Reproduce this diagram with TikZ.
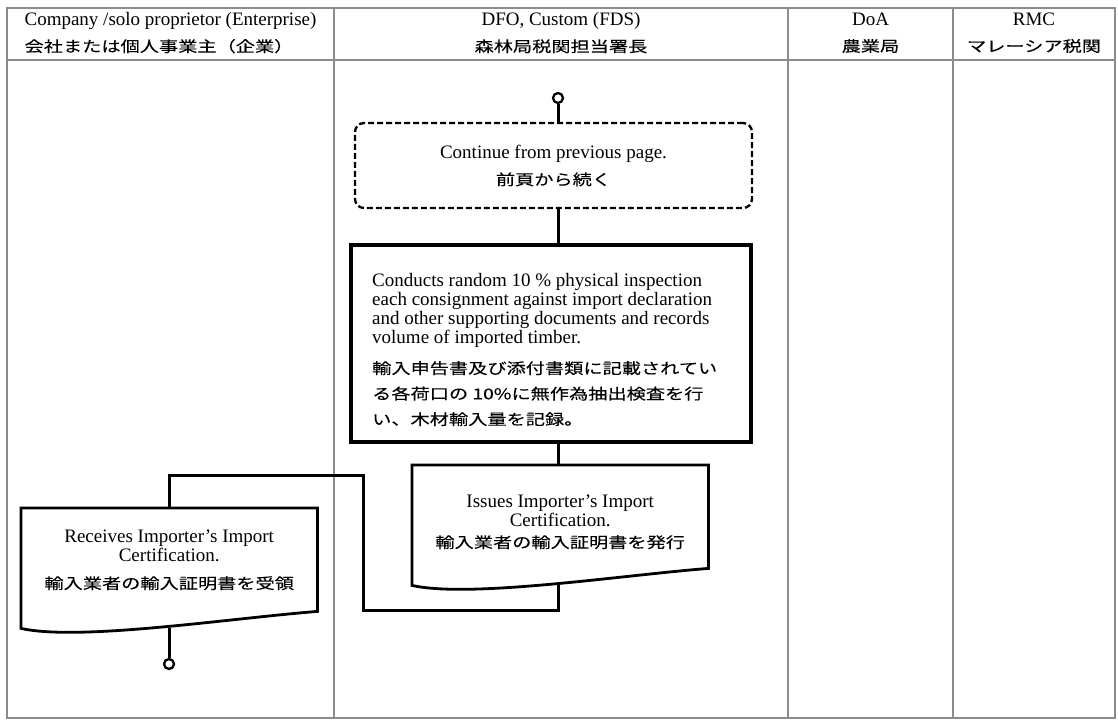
\documentclass[tikz,border=0pt]{standalone}
\usepackage{fontspec}
\setmainfont{Liberation Serif}
\newfontfamily\jpfam[FakeStretch=1.28,FakeBold=0.15]{Noto Sans CJK JP}
\usetikzlibrary{calc}
\newcommand\enfont{\fontsize{19}{19}\selectfont}
\newcommand\jpt[1]{{\jpfam\fontsize{15}{26}\selectfont #1}}
\begin{document}
\begin{tikzpicture}[x=1pt,y=-1pt,
  lane/.style={draw=black!45, line width=1.3pt},
  conn/.style={line width=3pt},
  docline/.style={line width=2.8pt, line join=miter},
  circ/.style={circle, draw, line width=2.3pt, minimum size=10pt, inner sep=0pt, fill=white},
  contbox/.style={draw, dash pattern=on 6pt off 3pt, line width=2.3pt, rounded corners=9pt,
     minimum width=397pt, minimum height=85pt, align=center, inner sep=0pt, font=\enfont},
  inspbox/.style={draw, line width=3.5pt, minimum width=400pt, minimum height=197pt, inner sep=0pt},
  docframe/.style={minimum width=296pt, minimum height=120pt, inner sep=0pt, anchor=north west},
  txt/.style={font=\enfont, align=center, inner sep=0pt},
  ltxt/.style={font=\enfont, align=left, inner sep=0pt, anchor=north west},
  jtxt/.style={font=\jpfam\fontsize{15}{25.5}\selectfont, align=left, inner sep=0pt, anchor=north west},
]
\useasboundingbox (0,0) rectangle (1118,720);
% swimlane frame
\draw[lane] (7,8) rectangle (1115,718);
\draw[lane] (7,60) -- (1115,60);
\draw[lane] (334,8) -- (334,718);
\draw[lane] (788,8) -- (788,718);
\draw[lane] (953,8) -- (953,718);
% headers
\node[txt, align=left] (h1) at (170.5,33) {Company /solo proprietor (Enterprise)\\[7pt]\jpt{会社または個人事業主（企業）}};
\node[txt] (h2) at (561,33) {DFO, Custom (FDS)\\[7pt]\jpt{森林局税関担当署長}};
\node[txt] (h3) at (870.5,33) {DoA\\[7pt]\jpt{農業局}};
\node[txt] (h4) at (1034,33) {RMC\\[7pt]\jpt{マレーシア税関}};
% flow
\node[circ] (c1) at (558,98) {};
\node[contbox] (cont) at (553.5,165.5) {Continue from previous page.\\[8pt]\jpt{前頁から続く}};
\node[inspbox] (insp) at (551,343.5) {};
\node[ltxt] (ien) at (372,273) {Conducts random 10 \% physical inspection\\each consignment against import declaration\\and other supporting documents and records\\volume of imported timber.};
\node[jtxt] (ijp) at (372,361) {輸入申告書及び添付書類に記載されてい\\る各荷口の 10\%に無作為抽出検査を行\\い、木材輸入量を記録。};
\node[docframe] (issue) at (412,465) {};
\node[txt] (issuet) at ($(issue.center)+(0,-3)$) {Issues Importer’s Import\\Certification.\\[2pt]\jpt{輸入業者の輸入証明書を発行}};
\node[docframe] (rcv) at (21,508) {};
\node[txt] (rcvt) at ($(rcv.center)+(0,-8)$) {Receives Importer’s Import\\Certification.\\[8pt]\jpt{輸入業者の輸入証明書を受領}};
\node[circ] (c2) at (169,664) {};
\coordinate (k1) at (363,610);
\coordinate (k2) at (169,475);
% document shapes
\draw[docline] (issue.south west) -- (issue.north west) -- (issue.north east) -- ($(issue.south east)+(0,-17)$)
  .. controls ($(issue.south west)+(208,-10)$) and ($(issue.south west)+(58,13)$) .. (issue.south west) -- cycle;
\draw[docline] (rcv.south west) -- (rcv.north west) -- (rcv.north east) -- ($(rcv.south east)+(0,-17)$)
  .. controls ($(rcv.south west)+(208,-10)$) and ($(rcv.south west)+(58,13)$) .. (rcv.south west) -- cycle;
% connectors
\draw[conn] (c1.south) -- (c1 |- cont.north);
\draw[conn] (c1 |- cont.south) -- (c1 |- insp.north);
\draw[conn] (c1 |- insp.south) -- (c1 |- issue.north);
\draw[conn] (c1 |- issue.south) |- (k1) |- (k2) -- (k2 |- rcv.north);
\draw[conn] (c2 |- rcv.south) -- (c2.north);
\end{tikzpicture}
\end{document}
